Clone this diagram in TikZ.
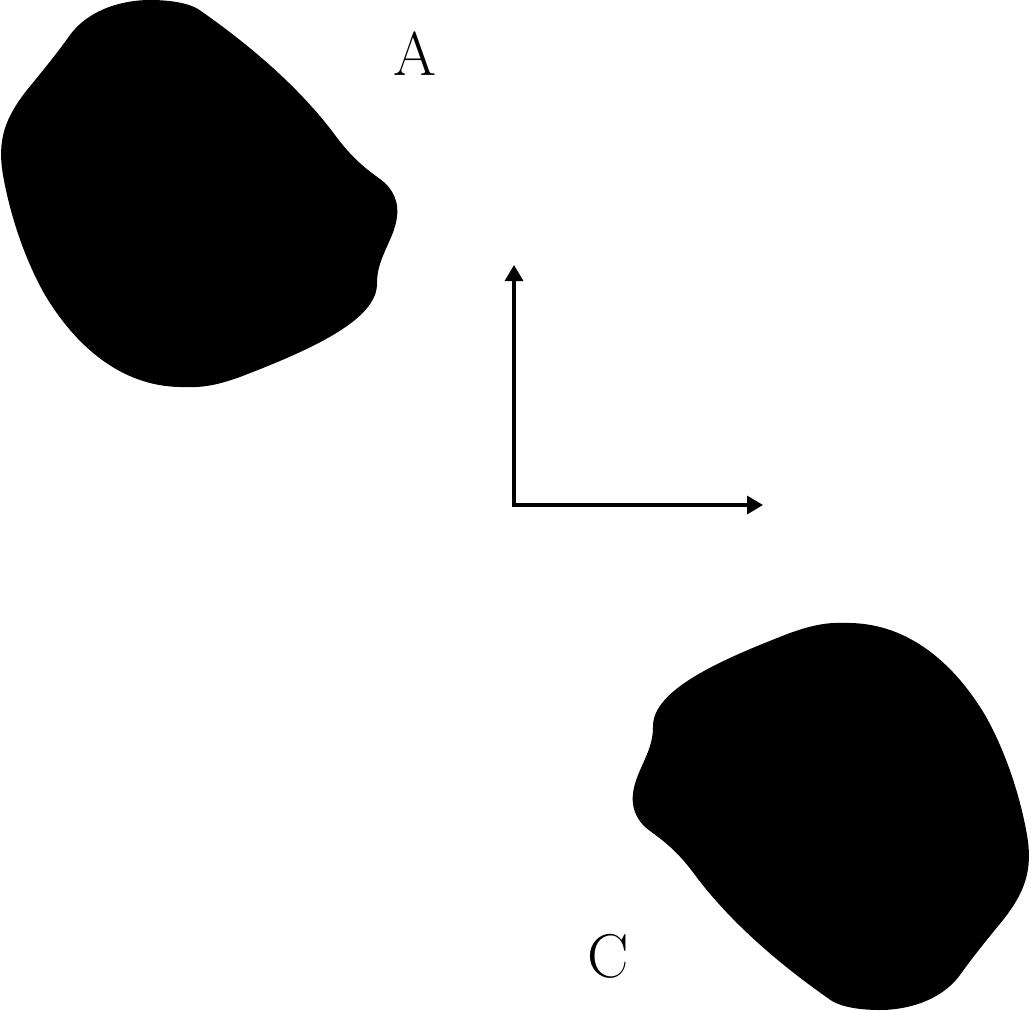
\documentclass[tikz,border=0pt]{standalone}
\usetikzlibrary{arrows.meta}
\tikzset{blob/.style={fill=black, draw=none},
  axis/.style={{Triangle[length=0.4cm, width=0.45cm]}-{Triangle[length=0.4cm, width=0.45cm]}, line width=0.085cm, line join=miter},
  lab/.style={font=\fontsize{44}{50}\selectfont, inner sep=0pt}}

\begin{document}
\begin{tikzpicture}[x=0.025cm, y=-0.025cm]
  \useasboundingbox (0,0) rectangle (1031,1011);
  % the two bodies, C is A turned half round the origin
  \foreach \ang in {0,180}
    \fill[blob, rotate around={\ang:(515,505)}]
      (198,9) .. controls (250,45) and (300,88) .. (335,135)
      .. controls (357,165) and (373,173) .. (385,183)
      .. controls (400,198) and (400,215) .. (392,235)
      .. controls (385,252) and (377,265) .. (377,283)
      .. controls (378,320) and (310,350) .. (240,377)
      .. controls (215,386) and (200,388) .. (180,387)
      .. controls (120,386) and (75,345) .. (45,295)
      .. controls (25,260) and (10,215) .. (3,175)
      .. controls (-3,140) and (5,118) .. (27,90)
      .. controls (45,68) and (58,52) .. (70,35)
      .. controls (90,8) and (125,0) .. (150,0)
      .. controls (170,0) and (188,3) .. (198,9) -- cycle;
  % axes
  \coordinate (o) at (514,505);
  \coordinate (xend) at (763,505);
  \coordinate (yend) at (514,265);
  \draw[axis] (yend) -- (o) -- (xend);
  % labels
  \node[lab] (la) at (415,54) {A};
  \node[lab] (lc) at (608,956) {C};
\end{tikzpicture}
\end{document}
